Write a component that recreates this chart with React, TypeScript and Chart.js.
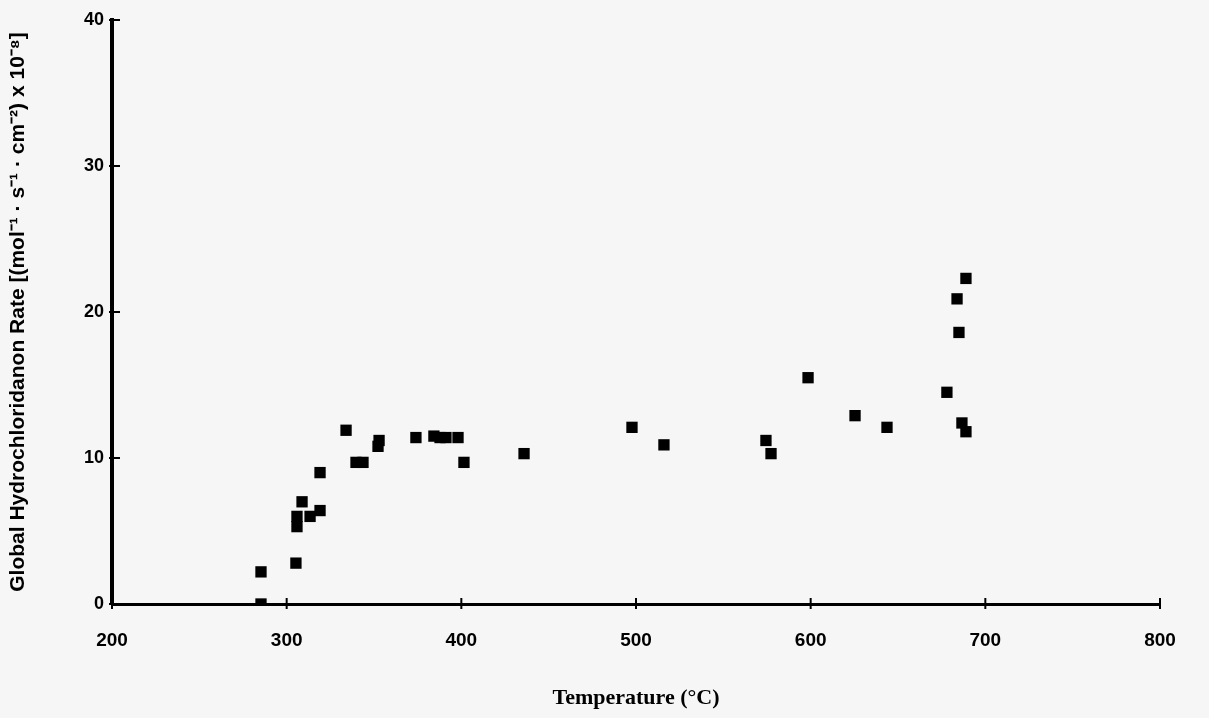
import React, { useEffect, useRef } from "react";
import { Chart, registerables } from "chart.js";

Chart.register(...registerables);

// Temperature (°C)
const temperatures: number[] = [
  285.3, 285.3, 305.3, 305.9, 305.9, 308.8, 313.4, 319.1, 319.1, 334,
  339.7, 343.7, 352.3, 352.9, 374, 384.3, 387.8, 391.2, 398.1, 401.5,
  435.9, 497.7, 516, 574.4, 577.3, 598.5, 625.4, 643.7, 678, 683.8,
  684.9, 688.9, 686.6, 688.9,
];

// Global hydrochlorination rate (x 10^-8)
const rates: number[] = [
  2.2, 0, 2.8, 5.3, 6.0, 7.0, 6.0, 9.0, 6.4, 11.9,
  9.7, 9.7, 10.8, 11.2, 11.4, 11.5, 11.4, 11.4, 11.4, 9.7,
  10.3, 12.1, 10.9, 11.2, 10.3, 15.5, 12.9, 12.1, 14.5, 20.9,
  18.6, 22.3, 12.4, 11.8,
];

const xTickValues: number[] = [200, 300, 400, 500, 600, 700, 800];
const yTickValues: number[] = [0, 10, 20, 30, 40];

const xTitle = "Temperature (°C)";
const yTitle = "Global Hydrochloridanon Rate [(mol\u207B\u00B9 \u00B7 s\u207B\u00B9 \u00B7 cm\u207B\u00B2) x 10\u207B\u2078]";

const crossTicks = {
  id: "crossTicks",
  afterDatasetsDraw(chart: any) {
    const { ctx, chartArea, scales } = chart;
    ctx.save();
    ctx.strokeStyle = "#000";
    ctx.lineWidth = 2;
    const xs = scales.x;
    const ys = scales.y;
    for (const v of xTickValues) {
      const px = xs.getPixelForValue(v);
      ctx.beginPath();
      ctx.moveTo(px, chartArea.bottom - 6);
      ctx.lineTo(px, chartArea.bottom + 5);
      ctx.stroke();
    }
    for (const v of yTickValues) {
      const py = ys.getPixelForValue(v);
      ctx.beginPath();
      ctx.moveTo(chartArea.left - 3, py);
      ctx.lineTo(chartArea.left + 8, py);
      ctx.stroke();
    }
    ctx.restore();
  },
};

export default function App() {
  const ref = useRef<HTMLCanvasElement>(null);
  useEffect(() => {
    document.body.style.margin = "0";
    document.body.style.background = "#f6f6f6";
    const canvas = ref.current!;
    const chart = new Chart(canvas, {
      type: "scatter",
      data: {
        datasets: [
          {
            data: temperatures.map((t, i) => ({ x: t, y: rates[i] })),
            pointStyle: "rect",
            pointRadius: 8,
            backgroundColor: "#000",
            borderColor: "#000",
            borderWidth: 0,
          },
        ],
      },
      options: {
        responsive: false,
        animation: false,
        layout: { padding: { top: 20, right: 49, left: 0, bottom: 0 } },
        plugins: { legend: { display: false }, tooltip: { enabled: false } },
        scales: {
          x: {
            type: "linear",
            min: 200,
            max: 800,
            afterBuildTicks: (s: any) => {
              s.ticks = xTickValues.map((v) => ({ value: v }));
            },
            afterFit: (s: any) => {
              s.height = 114;
              s.paddingLeft = 0;
              s.paddingRight = 0;
            },
            grid: { display: false, drawTicks: false },
            border: { display: true, color: "#000", width: 3 },
            ticks: {
              color: "#000",
              padding: 25,
              font: { family: "Liberation Sans", weight: "bold", size: 19 },
            },
            title: {
              display: true,
              text: xTitle,
              color: "#000",
              padding: { top: 30, bottom: 6 },
              font: { family: "Liberation Serif", weight: "bold", size: 22 },
            },
          },
          y: {
            type: "linear",
            min: 0,
            max: 40,
            afterBuildTicks: (s: any) => {
              s.ticks = yTickValues.map((v) => ({ value: v }));
            },
            afterFit: (s: any) => {
              s.width = 112;
              s.paddingTop = 0;
              s.paddingBottom = 0;
            },
            grid: { display: false, drawTicks: false },
            border: { display: true, color: "#000", width: 4 },
            ticks: {
              color: "#000",
              padding: 8,
              font: { family: "Liberation Sans", weight: "bold", size: 18 },
            },
            title: {
              display: true,
              text: yTitle,
              color: "#000",
              padding: { top: 6, bottom: 6 },
              font: { family: "Liberation Sans", weight: "bold", size: 21 },
            },
          },
        },
      },
      plugins: [crossTicks],
    });
    return () => chart.destroy();
  }, []);
  return (
    <div style={{ position: "absolute", left: 0, top: 0, width: 1209, height: 718, background: "#f6f6f6" }}>
      <canvas ref={ref} width={1209} height={718} style={{ display: "block" }} />
    </div>
  );
}
